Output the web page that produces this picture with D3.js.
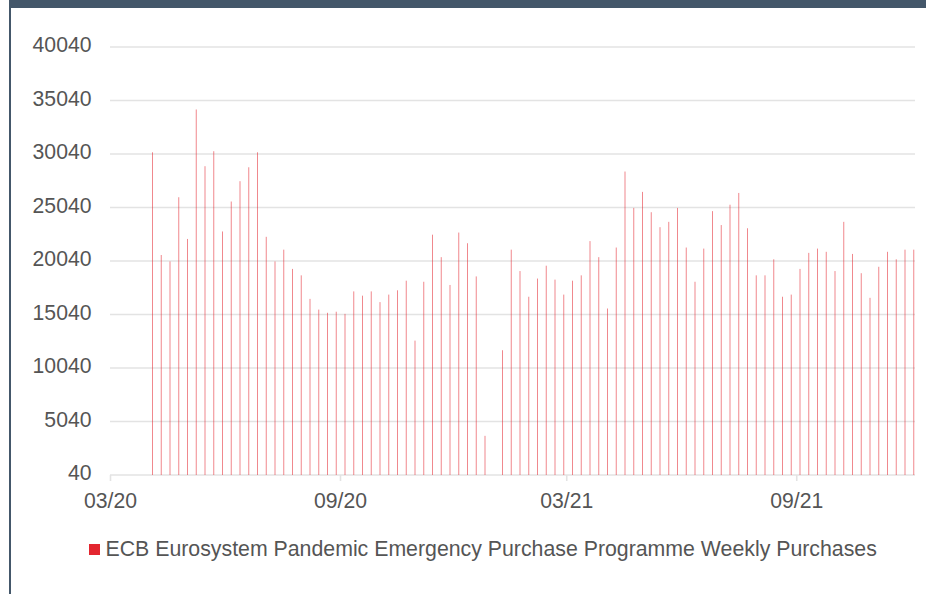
<!DOCTYPE html>
<html>
<head>
<meta charset="utf-8">
<script src="https://cdn.jsdelivr.net/npm/d3@7"></script>
<style>
  html, body { margin: 0; padding: 0; background: #fff; }
  svg { display: block; }
  text { font-family: "Liberation Sans", Arial, sans-serif; }
</style>
</head>
<body>
<svg id="chart" width="926" height="594"></svg>
<script>
// ---- data ----
const seriesName = "ECB Eurosystem Pandemic Emergency Purchase Programme Weekly Purchases";
const firstWeek = "2020-04-04";
const weeklyPurchases = [
  30200, 20600, 20000, 26000, 22100, 34200, 28900, 30300, 22800, 25600,
  27500, 28800, 30200, 22300, 20000, 21100, 19300, 18700, 16500, 15500,
  15200, 15300, 15100, 17200, 16800, 17200, 16200, 16900, 17300, 18200,
  12600, 18100, 22500, 20400, 17800, 22700, 21700, 18600, 3700, 0,
  11700, 21100, 19100, 16700, 18400, 19600, 18300, 16900, 18200, 18700,
  21900, 20400, 15600, 21300, 28400, 25000, 26500, 24600, 23200, 23700,
  25000, 21300, 18100, 21200, 24700, 23400, 25300, 26400, 23100, 18700,
  18700, 20200, 16700, 16900, 19300, 20800, 21200, 20900, 19100, 23700,
  20700, 18900, 16600, 19500, 20900, 20200, 21100, 21100
];
const yTicks = [40, 5040, 10040, 15040, 20040, 25040, 30040, 35040, 40040];
const xTickDates = ["2020-03-01", "2020-09-01", "2021-03-01", "2021-09-01"];
const xDomain = ["2020-03-01", "2021-12-05"];

// ---- setup ----
const parse = d3.utcParse("%Y-%m-%d");
const start = parse(firstWeek);
const data = weeklyPurchases.map((v, i) => ({ date: d3.utcDay.offset(start, 7 * i), value: v }));

const svg = d3.select("#chart");
const frame = "#44576a";
const red = "#e3262f";
const textCol = "#555555";
const gridCol = "#e3e3e3";

// frame
svg.append("rect").attr("x", 9).attr("y", 0).attr("width", 917).attr("height", 8).attr("fill", frame);
svg.append("rect").attr("x", 9).attr("y", 0).attr("width", 2).attr("height", 594).attr("fill", frame);

const x = d3.scaleUtc().domain(xDomain.map(parse)).range([110, 915]);
const y = d3.scaleLinear().domain([40, 40040]).range([475, 47]);

// gridlines
svg.append("g").selectAll("line").data(yTicks).join("line")
  .attr("x1", 110).attr("x2", 915)
  .attr("y1", d => y(d)).attr("y2", d => y(d))
  .attr("stroke", gridCol).attr("stroke-width", 1.6);

// y labels
const yAxis = d3.axisLeft(y).tickValues(yTicks).tickSize(0).tickPadding(0).tickFormat(d3.format("d"));
const gy = svg.append("g").attr("transform", "translate(91.5,0)").call(yAxis);
gy.select(".domain").remove();
gy.selectAll("text").attr("fill", textCol).attr("font-size", 21.2)
  .attr("font-family", "'Liberation Sans', Arial, sans-serif").attr("dy", "0.3em")
  .attr("transform", "translate(0,-1.5)");

// x axis
const xAxis = d3.axisBottom(x).tickValues(xTickDates.map(parse)).tickSize(6).tickPadding(12)
  .tickFormat(d3.utcFormat("%m/%y"));
const gx = svg.append("g").attr("transform", "translate(0,475)").call(xAxis);
gx.select(".domain").remove();
gx.selectAll(".tick line").attr("stroke", gridCol).attr("stroke-width", 1.6);
gx.selectAll("text").attr("fill", textCol).attr("font-size", 21.2)
  .attr("font-family", "'Liberation Sans', Arial, sans-serif");

// bars
svg.append("g").selectAll("rect").data(data.filter(d => d.value > 0)).join("rect")
  .attr("x", d => x(d.date) - 0.5)
  .attr("width", 1)
  .attr("y", d => y(d.value))
  .attr("height", d => y(40) - y(d.value))
  .attr("fill", red).attr("fill-opacity", 0.55);

// legend
const lg = svg.append("g");
lg.append("rect").attr("x", 89).attr("y", 544).attr("width", 11).attr("height", 11).attr("fill", red);
lg.append("text").attr("x", 105.5).attr("y", 556).attr("font-size", 21.3).attr("fill", textCol)
  .text(seriesName);
</script>
</body>
</html>
